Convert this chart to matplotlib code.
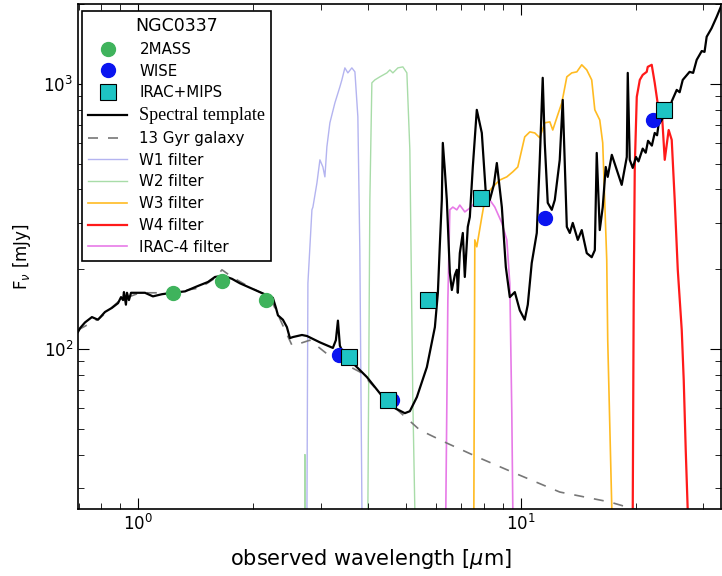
import numpy as np
import matplotlib
matplotlib.use('Agg')
import matplotlib.pyplot as plt

# photometry [micron, mJy]
tmass_wl = [1.235, 1.662, 2.159]
tmass_f = [163, 181, 153]
wise_wl = [3.35, 4.60, 11.56, 22.1]
wise_f = [95, 64, 312, 731]
irac_wl = [3.55, 4.49, 5.73, 7.87, 23.7]
irac_f = [93, 64, 153, 372, 798]

# spectral template
tmpl_wl = [0.697, 0.706, 0.727, 0.758, 0.786, 0.820, 0.855, 0.887, 0.903, 0.914,
           0.919, 0.930, 0.936, 0.947, 0.959, 0.982, 1.043, 1.094, 1.155, 1.227,
           1.327, 1.435, 1.523, 1.589, 1.667, 1.760, 1.846, 2.082, 2.251, 2.293,
           2.321, 2.391, 2.449, 2.494, 2.540, 2.681, 2.763, 2.987, 3.229, 3.288,
           3.329, 3.368, 3.409, 3.513, 3.731, 3.963, 4.363, 4.688, 4.978, 5.131,
           5.352, 5.684, 5.965, 6.073, 6.145, 6.219, 6.256, 6.332, 6.409, 6.526,
           6.605, 6.725, 6.806, 6.847, 6.930, 7.056, 7.141, 7.270, 7.360, 7.493,
           7.675, 7.910, 8.102, 8.300, 8.503, 8.658, 8.923, 9.139, 9.361, 9.647,
           9.94, 10.24, 10.43, 10.68, 11.01, 11.21, 11.41, 11.55, 11.76, 12.05,
           12.27, 12.64, 12.87, 13.19, 13.43, 13.67, 14.09, 14.43, 14.87, 15.32,
           15.61, 15.79, 16.08, 16.37, 16.67, 16.87, 17.29, 17.81, 18.35, 18.92,
           19.03, 19.26, 19.61, 20.0, 20.3, 20.82, 21.2, 21.5, 22.0, 22.38,
           22.7, 22.9, 23.34, 24.06, 24.5, 24.8, 25.55, 26.0, 26.49, 27.6,
           28.2, 28.81, 29.7, 30.2, 30.59, 31.5, 32.49, 33.48]
tmpl_f = [116, 120, 126, 132, 129, 138, 143, 149, 157, 153,
          164, 147, 163, 153, 163, 163, 163, 158, 161, 163,
          165, 173, 179, 187, 189, 184, 177, 164, 156, 143,
          134, 129, 121, 110, 111, 113, 112, 106, 101, 108,
          128, 103, 99, 93, 85.5, 78.4, 65.9, 59.9, 57.3, 58.3,
          65.9, 85.5, 121, 163, 247, 365, 599, 474, 365, 194,
          167, 190, 199, 163, 230, 274, 187, 289, 315, 486,
          798, 653, 388, 365, 416, 503, 343, 204, 157, 164,
          140, 129, 147, 211, 274, 517, 1054, 599, 356, 335,
          365, 517, 870, 289, 274, 299, 258, 281, 230, 222,
          236, 549, 281, 343, 486, 446, 540, 474, 416, 530,
          1100, 517, 482, 530, 510, 570, 550, 610, 585, 653,
          640, 700, 731, 798, 790, 860, 949, 930, 1035, 1110,
          1100, 1232, 1330, 1320, 1505, 1620, 1790, 1987]

# old stellar population
gal_wl = [0.697, 0.796, 0.898, 1.012, 1.212, 1.452, 1.589, 1.657, 1.760, 1.961,
          2.211, 2.293, 2.420, 2.524, 2.649, 2.812, 3.172, 3.798, 4.550, 5.449,
          6.409, 7.816, 9.532, 12.64, 17.08, 19.61, 23.07]
gal_f = [118, 131, 153, 163, 163, 170, 185, 199, 187, 171,
         157, 140, 118, 103.5, 105, 108, 94, 82, 62.5, 49.5,
         44.2, 38.8, 34.3, 28.9, 26.5, 25.0, 23.6]

# filter curves (scaled)
w1_wl = [2.74, 2.763, 2.779, 2.847, 2.864, 2.934, 2.987, 3.041, 3.078, 3.115,
         3.172, 3.269, 3.368, 3.409, 3.471, 3.534, 3.620, 3.687, 3.753, 3.798, 3.846, 3.87]
w1_f = [1, 24.9, 177, 335, 343, 423, 517, 486, 446, 579,
        713, 848, 974, 1035, 1149, 1100, 1149, 1110, 751, 236, 24.9, 1]
w2_wl = [2.70, 2.73, 2.75, 3.96, 3.986, 4.034, 4.083, 4.157, 4.284, 4.469,
         4.550, 4.633, 4.775, 4.920, 5.040, 5.131, 5.224, 5.287, 5.31]
w2_f = [1, 40, 1, 1, 24.9, 365, 1009, 1035, 1063, 1100,
        1129, 1100, 1149, 1159, 1100, 563, 64, 24.9, 1]
w3_wl = [7.50, 7.54, 7.584, 7.675, 7.910, 8.054, 8.201, 8.453, 8.815, 9.194,
         9.532, 9.822, 10.24, 10.56, 10.88, 11.21, 11.55, 11.91, 12.12, 12.49,
         12.80, 13.19, 13.59, 14.01, 14.43, 14.87, 15.32, 15.61, 16.08, 16.37,
         16.77, 16.87, 17.29, 17.35]
w3_f = [1, 24.9, 258, 243, 315, 365, 388, 409, 434, 446,
        466, 486, 631, 659, 653, 626, 713, 719, 670, 764,
        848, 1063, 1100, 1110, 1180, 1129, 1035, 798, 731, 599,
        217, 108, 24.9, 1]
w4_wl = [19.55, 19.61, 19.72, 19.85, 20.09, 20.46, 20.82, 21.33, 21.46, 21.98,
         22.38, 22.79, 23.34, 23.77, 24.34, 24.79, 25.24, 25.71, 26.02, 26.33,
         26.65, 26.97, 27.29, 27.35]
w4_f = [1, 24.9, 153, 486, 893, 1035, 1081, 1110, 1159, 1180,
        1009, 841, 798, 517, 670, 615, 365, 199, 153, 118,
        76, 41.6, 24.9, 1]
irac4_wl = [6.33, 6.37, 6.449, 6.526, 6.645, 6.806, 6.930, 7.141, 7.360, 7.584,
            7.959, 8.300, 8.554, 8.923, 9.194, 9.361, 9.474, 9.532, 9.56]
irac4_f = [1, 24.9, 153, 335, 343, 335, 349, 329, 340, 356,
           365, 365, 343, 299, 258, 177, 57.3, 24.9, 1]


fig = plt.figure(figsize=(7.22, 5.76), dpi=100)
ax = fig.add_axes([0.108, 0.116, 0.891, 0.877])

ax.plot(w1_wl, w1_f, color='#b4b4f0', lw=1.0, label='W1 filter', zorder=1)
ax.plot(w2_wl, w2_f, color='#a8dca8', lw=1.0, label='W2 filter', zorder=1)
ax.plot(w3_wl, w3_f, color='#ffbb22', lw=1.2, label='W3 filter', zorder=1)
ax.plot(w4_wl, w4_f, color='#ff1a1a', lw=1.6, label='W4 filter', zorder=1)
ax.plot(irac4_wl, irac4_f, color='#e77ae7', lw=1.2, label='IRAC-4 filter', zorder=1)

ax.plot(gal_wl, gal_f, '--', color='#777777', lw=1.2, dashes=(6, 6), label='13 Gyr galaxy', zorder=2)
ax.plot(tmpl_wl, tmpl_f, '-', color='black', lw=1.6, label='Spectral template', zorder=3)

ax.plot(tmass_wl, tmass_f, 'o', color='#3fb35c', mec='#3fb35c', ms=10, label='2MASS', zorder=4)
ax.plot(wise_wl, wise_f, 'o', color='#0a14f0', mec='#0a14f0', ms=10, label='WISE', zorder=4)
ax.plot(irac_wl, irac_f, 's', color='#1ec4c4', mec='black', mew=0.8, ms=11, label='IRAC+MIPS', zorder=5)

ax.set_xscale('log')
ax.set_yscale('log')
ax.set_xlim(0.697, 33.4)
ax.set_ylim(24.9, 2000)

ax.tick_params(which='both', direction='in', top=True, right=True, labelsize=12)
ax.tick_params(which='major', length=8)
ax.tick_params(which='minor', length=4)
for s in ax.spines.values():
    s.set_linewidth(1.2)

ax.set_xlabel(r'observed wavelength [$\mu$m]', fontsize=15)
ax.set_ylabel(r'F$_\nu$ [mJy]', fontsize=12)
ax.xaxis.set_label_coords(0.455, -0.075)
ax.yaxis.set_label_coords(-0.07, 0.5)

handles, labels = ax.get_legend_handles_labels()
order = ['2MASS', 'WISE', 'IRAC+MIPS', 'Spectral template', '13 Gyr galaxy',
         'W1 filter', 'W2 filter', 'W3 filter', 'W4 filter', 'IRAC-4 filter']
hl = dict(zip(labels, handles))
leg = ax.legend([hl[k] for k in order], order, loc='upper left', numpoints=1,
                title='NGC0337', fontsize=10.8, title_fontsize=12.5, frameon=True,
                fancybox=False, edgecolor='black', framealpha=1,
                handlelength=2.6, labelspacing=0.45, borderaxespad=0.3,
                bbox_to_anchor=(0.0, 0.995))
leg.get_frame().set_linewidth(1.2)
for t in leg.get_texts():
    if t.get_text() == 'Spectral template':
        t.set_fontfamily('Liberation Serif')
        t.set_fontsize(13)

plt.savefig('out.png', dpi=100)
